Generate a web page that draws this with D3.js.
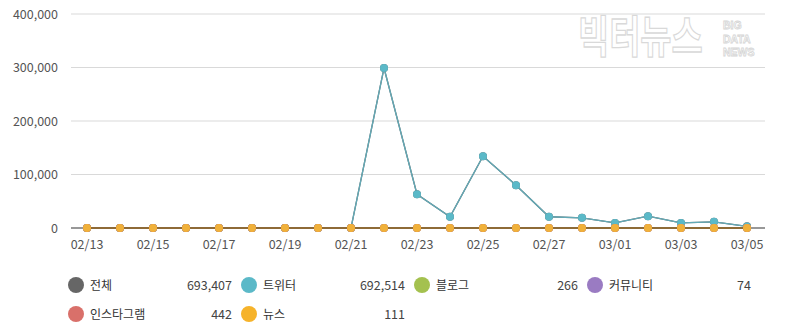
<!DOCTYPE html>
<html>
<head>
<meta charset="utf-8">
<script src="https://cdn.jsdelivr.net/npm/d3@7"></script>
<style>
  html, body { margin: 0; padding: 0; background: #fff; }
  svg { display: block; font-family: "Noto Sans CJK KR", "Noto Sans", sans-serif; }
</style>
</head>
<body>
<svg id="chart" width="791" height="336"></svg>
<script>
// Daily mention counts, 02/13 – 03/05
const dates = ["02/13","02/14","02/15","02/16","02/17","02/18","02/19","02/20","02/21","02/22",
               "02/23","02/24","02/25","02/26","02/27","02/28","03/01","03/02","03/03","03/04","03/05"];
const twitter   = [0,0,0,0,0,0,0,0,14,299000,63000,21000,134000,80000,21000,19000,9500,22000,9500,11500,3000];
const blog      = [10,12,15,11,13,12,14,10,13,15,12,14,13,12,11,13,12,14,13,12,9];
const community = [3,4,3,4,3,4,3,4,3,4,3,4,3,4,3,4,3,4,3,4,3];
const instagram = [20,22,21,20,23,21,22,20,21,22,21,20,22,21,20,21,22,21,20,21,21];
const news      = [5,6,5,5,6,5,5,6,5,6,5,5,6,5,5,6,5,5,6,5,5];
const total     = dates.map((d, i) => twitter[i] + blog[i] + community[i] + instagram[i] + news[i]);

const yTicks = [0, 100000, 200000, 300000, 400000];
const xTickLabels = ["02/13","02/15","02/17","02/19","02/21","02/23","02/25","02/27","03/01","03/03","03/05"];

const legendNames  = ["전체", "트위터", "블로그", "커뮤니티", "인스타그램", "뉴스"];
const legendTotals = [693407, 692514, 266, 74, 442, 111];
const colors = ["#666666", "#5bb9c8", "#a4c14f", "#9a7bc2", "#d9706a", "#f6b32a"];
const seriesData = [total, twitter, blog, community, instagram, news];

const svg = d3.select("#chart");
const margin = { left: 71, right: 765, top: 14, bottom: 228 };

const x = d3.scalePoint().domain(dates).range([87, 747]);
const y = d3.scaleLinear().domain([0, 400000]).range([margin.bottom, margin.top]);

// Watermark logo (outlined, very light)
const wm = svg.append("g").attr("pointer-events", "none");
wm.append("text")
  .attr("transform", "translate(578,53) scale(0.77,1)")
  .attr("font-size", 44).attr("font-weight", 700)
  .attr("fill", "#fff").attr("stroke", "#d9d9d9").attr("stroke-width", 1.3)
  .text("빅터뉴스");
["BIG", "DATA", "NEWS"].forEach((t, i) => {
  wm.append("text")
    .attr("x", 723).attr("y", 29 + i * 13.5)
    .attr("font-family", "'Liberation Sans', Arial, sans-serif")
    .attr("font-size", 10.5).attr("font-weight", 700)
    .attr("fill", "#fff").attr("stroke", "#d6d6d6").attr("stroke-width", 0.8)
    .text(t);
});

// Horizontal grid lines
svg.append("g").selectAll("line")
  .data(yTicks.filter(v => v > 0))
  .join("line")
  .attr("x1", margin.left).attr("x2", margin.right)
  .attr("y1", d => y(d)).attr("y2", d => y(d))
  .attr("stroke", "#d9d9d9").attr("stroke-width", 1);

// Y axis labels
svg.append("g").selectAll("text")
  .data(yTicks)
  .join("text")
  .attr("x", 58).attr("y", d => y(d) + 4.5)
  .attr("text-anchor", "end")
  .attr("font-size", 12.5).attr("fill", "#555")
  .text(d => d3.format(",")(d));

// Series lines
const line = d3.line().x((d, i) => x(dates[i])).y(d => y(d));
seriesData.forEach((vals, si) => {
  svg.append("path")
    .datum(vals)
    .attr("d", line)
    .attr("fill", "none")
    .attr("stroke", si === 1 ? "#62aab7" : colors[si])
    .attr("stroke-width", 1.3);
});

// X axis baseline, ticks and labels
const xAxis = svg.append("g").attr("transform", `translate(0,${margin.bottom})`);
xAxis.append("line")
  .attr("x1", margin.left).attr("x2", margin.right)
  .attr("stroke", "#333").attr("stroke-width", 1.2);
xAxis.selectAll("line.tick")
  .data(xTickLabels)
  .join("line").attr("class", "tick")
  .attr("x1", d => x(d)).attr("x2", d => x(d))
  .attr("y1", 0).attr("y2", 4)
  .attr("stroke", "#333");
xAxis.selectAll("text")
  .data(xTickLabels)
  .join("text")
  .attr("x", d => x(d)).attr("y", 21)
  .attr("text-anchor", "middle")
  .attr("font-size", 12.5).attr("fill", "#555")
  .text(d => d);

// Series points
seriesData.forEach((vals, si) => {
  svg.append("g").selectAll("circle")
    .data(vals)
    .join("circle")
    .attr("cx", (d, i) => x(dates[i]))
    .attr("cy", d => y(d))
    .attr("r", 4)
    .attr("fill", si === 5 ? "#f0b13a" : colors[si]);
});

// Legend
const legend = svg.append("g");
legendNames.forEach((name, i) => {
  const col = i % 4, row = Math.floor(i / 4);
  const gx = 76 + col * 173, gy = 285 + row * 29;
  const item = legend.append("g").attr("transform", `translate(${gx},${gy})`);
  item.append("circle").attr("r", 8).attr("fill", colors[i]);
  item.append("text")
    .attr("x", 14).attr("y", 4.5)
    .attr("font-size", 12).attr("fill", "#333")
    .text(name);
  item.append("text")
    .attr("x", 156).attr("y", 4.5)
    .attr("text-anchor", "end")
    .attr("font-size", 12.5).attr("fill", "#444")
    .text(d3.format(",")(legendTotals[i]));
});
</script>
</body>
</html>
